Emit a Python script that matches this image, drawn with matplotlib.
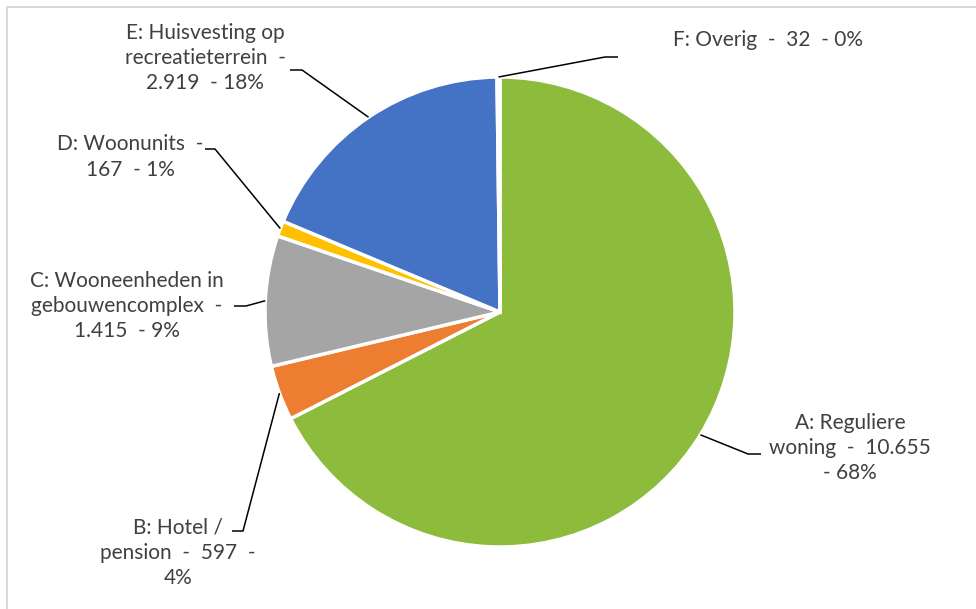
import numpy as np
import matplotlib.pyplot as plt
from matplotlib.lines import Line2D

# DATA
codes = ['A', 'B', 'C', 'D', 'E', 'F']
names = ['Reguliere\nwoning', 'Hotel /\npension', 'Wooneenheden in\ngebouwencomplex',
         'Woonunits', 'Huisvesting op\nrecreatieterrein', 'Overig']
counts = [10655, 597, 1415, 167, 2919, 32]
colors = ['#8DBB3C', '#ED7D31', '#A5A5A5', '#FFC000', '#4472C4', '#5B9BD5']

# label texts as Excel shows them (line breaks included)
label_texts = [
    'A: Reguliere\nwoning  -  10.655\n- 68%',
    'B: Hotel /\npension  -  597  -\n4%',
    'C: Wooneenheden in\ngebouwencomplex  -\n1.415  - 9%',
    'D: Woonunits  -\n167  - 1%',
    'E: Huisvesting op\nrecreatieterrein  -\n2.919  - 18%',
    'F: Overig  -  32  - 0%',
]

# LAYOUT (pixel coords, y from top)
W, H = 976, 609
cx, cy, R = 500, 312, 235
text_pos = [(850, 448), (178, 553), (127, 306), (130, 157), (205, 58), (768, 40)]
# elbow point and end of the short horizontal piece of each leader line
elbows = [((748, 454), (761, 454)),
          ((243, 531), (232, 531)),
          ((246, 306), (234, 306)),
          ((215, 149), (205, 149)),
          ((302, 70), (290, 70)),
          ((605, 57), (618, 57))]

fig = plt.figure(figsize=(W / 100, H / 100), dpi=100)
ax = fig.add_axes([0, 0, 1, 1])

wedges, _ = ax.pie(counts, colors=colors, startangle=90, counterclock=False,
                   center=(cx, H - cy), radius=R, frame=True,
                   wedgeprops=dict(edgecolor='white', linewidth=2.5))
ax.set_xlim(0, W)
ax.set_ylim(0, H)
ax.set_aspect('equal')
ax.axis('off')

for w, txt, tp, (el, en) in zip(wedges, label_texts, text_pos, elbows):
    mid = np.deg2rad((w.theta1 + w.theta2) / 2)
    ex = cx + R * np.cos(mid)
    ey = (H - cy) + R * np.sin(mid)
    ax.plot([ex, el[0], en[0]], [ey, H - el[1], H - en[1]], color='black', lw=1.1,
            solid_capstyle='butt', zorder=3)
    ax.text(tp[0], H - tp[1], txt, ha='center', va='center', fontsize=15,
            family='Lato', color='#404040', linespacing=1.33)

# chart area border (cut off on right and bottom)
fig.add_artist(Line2D([7 / W, 7 / W, 1], [0, 1 - 7 / H, 1 - 7 / H],
                      color='#D9D9D9', lw=1.5, transform=fig.transFigure))

fig.savefig('out.png', dpi=100, facecolor='white')
